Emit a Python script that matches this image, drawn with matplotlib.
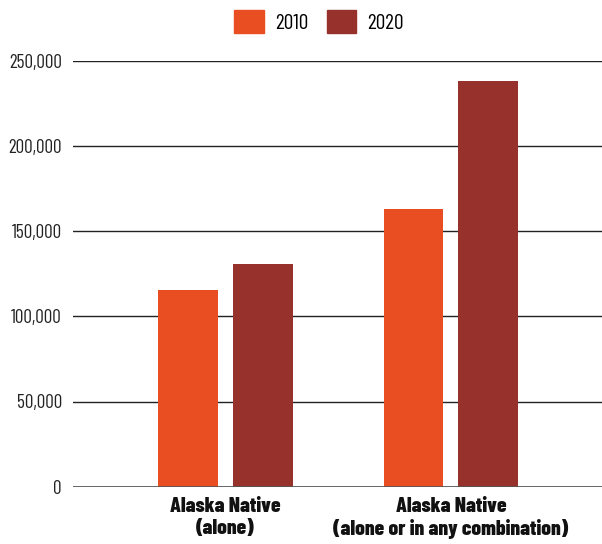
import numpy as np
import matplotlib
matplotlib.use("Agg")
from matplotlib import pyplot as plt
from matplotlib.patches import Patch

categories = ["Alaska Native\n(alone)", "Alaska Native\n(alone or in any combination)"]
years = ["2010", "2020"]
v2010 = [115700, 162750]
v2020 = [130400, 238050]
colors = ["#E84E22", "#96322B"]

plt.rcParams['font.family'] = ['Barlow Condensed', 'DejaVu Sans']

fig = plt.figure(figsize=(6.02, 5.44), dpi=100)
ax = fig.add_axes([73/602, 57.3/544, 529/602, 426/544])

x = np.arange(len(categories))
w = 0.266
off = 0.166
ax.bar(x - off, v2010, w, color=colors[0], zorder=3)
ax.bar(x + off, v2020, w, color=colors[1], zorder=3)

ax.set_xlim(-0.676, 1.670)
ax.set_ylim(0, 250000)
yt = np.arange(0, 250001, 50000)
ax.set_yticks(yt)
ax.set_yticklabels([f"{v:,}" for v in yt], fontsize=13.8, color="#222222")
ax.set_xticks(x)
ax.set_xticklabels(categories, fontsize=15.5, fontweight=800, color="#111111",
                   linespacing=1.2)
ax.tick_params(axis="y", length=0, pad=8)
ax.tick_params(axis="x", length=0, pad=7.5)
for s in ax.spines.values():
    s.set_visible(False)
ax.grid(axis="y", color="#222222", linewidth=1, zorder=0)
ax.axhline(0, color="#555555", linewidth=1.2, zorder=4)

handles = [Patch(color=c, label=y) for c, y in zip(colors, years)]
fig.legend(handles=handles, loc="center", bbox_to_anchor=(319/602, 1 - 21.5/544), ncol=2,
           frameon=False, fontsize=15.5, handlelength=1.39, handleheight=1.3,
           handletextpad=0.5, columnspacing=0.85, borderpad=0)

fig.savefig("out.png", dpi=100)
